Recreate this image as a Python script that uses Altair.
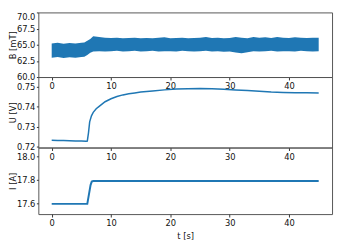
import altair as alt
import pandas as pd

# ---- data ----
# Panel 1: magnetic field B [mT] (noisy band: lower / upper envelope)
t_b = [0, 1, 2, 3, 4, 5, 5.5, 6, 6.5, 7, 8, 9, 10, 11, 12, 13, 14, 15, 16, 17,
       18, 19, 20, 21, 22, 23, 24, 25, 26, 27, 28, 29, 30, 31, 32, 33, 34, 35,
       36, 37, 38, 39, 40, 41, 42, 43, 44, 45]
b_hi = [65.2, 65.3, 65.15, 65.25, 65.2, 65.3, 65.35, 65.6, 65.9, 66.3, 66.2, 66.1,
        66.05, 66.1, 66.0, 66.05, 66.1, 66.0, 66.05, 66.0, 66.1, 66.15, 66.0, 66.05,
        66.1, 66.0, 66.05, 66.1, 66.2, 66.05, 66.1, 66.0, 66.05, 66.2, 66.1, 66.0,
        66.2, 66.1, 66.15, 66.05, 66.2, 66.1, 66.05, 66.15, 66.1, 66.05, 66.1, 66.1]
b_lo = [63.0, 63.1, 62.95, 63.05, 63.0, 63.1, 63.15, 63.4, 63.75, 63.95, 64.0, 63.95,
        64.0, 64.05, 63.95, 64.0, 64.05, 63.95, 64.0, 64.05, 63.95, 64.0, 64.0, 63.95,
        64.05, 64.0, 63.95, 64.0, 64.05, 63.95, 64.0, 63.9, 63.95, 63.8, 63.7, 63.85,
        64.0, 63.95, 64.0, 64.05, 63.95, 64.0, 64.0, 63.95, 64.05, 64.0, 63.95, 64.0]

# Panel 2: voltage U [V]
t_u = [0, 1, 2, 3, 4, 5, 5.8, 6.0, 6.2, 6.4, 6.7, 7.0, 7.5, 8, 9, 10, 11, 12, 13,
       14, 15, 17, 19, 21, 23, 25, 27, 29, 31, 33, 35, 37, 39, 41, 43, 45]
u_vals = [0.7233, 0.7232, 0.7232, 0.7231, 0.7230, 0.7229, 0.7228, 0.7229, 0.7270,
          0.7325, 0.7355, 0.7372, 0.7390, 0.7402, 0.7425, 0.7440, 0.7451, 0.7459,
          0.7465, 0.7469, 0.7473, 0.7479, 0.7484, 0.7488, 0.7490, 0.7491, 0.7490,
          0.7487, 0.7484, 0.7481, 0.7477, 0.7473, 0.7471, 0.7470, 0.7470, 0.7469]

# Panel 3: current I [A]
t_i = [0, 3, 6.0, 6.55, 6.75, 7.0, 20, 30, 45]
i_vals = [17.595, 17.595, 17.595, 17.755, 17.785, 17.79, 17.79, 17.79, 17.79]

x_ticks = [0, 10, 20, 30, 40]
b_ticks = [60.0, 62.5, 65.0, 67.5, 70.0]
u_ticks = [0.72, 0.73, 0.74, 0.75]
i_ticks = [17.6, 17.8, 18.0]

# ---- styling ----
BLUE = "#1f77b4"
FONT = "DejaVu Sans"
FS = 8.5
W = 300
x_scale = alt.Scale(domain=[-2.25, 47.25], nice=False, zero=False)

common_axis = dict(labelFont=FONT, labelFontSize=FS, labelColor="#111",
                   titleFont=FONT, titleFontSize=FS, titleColor="#111",
                   titleFontWeight="normal", tickColor="#333", tickWidth=1,
                   domain=False, grid=False)


def x_axis(title):
    kw = dict(common_axis)
    kw["title"] = title if title else None
    return alt.Axis(values=x_ticks, format="d", tickSize=3, labelPadding=2,
                    titlePadding=4.5, **kw)


def y_axis(title, ticks, fmt, baseline=None):
    kw = dict(common_axis)
    if baseline is not None:
        kw["labelBaseline"] = baseline
    return alt.Axis(values=ticks, format=fmt, title=title, tickSize=2,
                    labelPadding=1.5, titlePadding=-1, **kw)


df_b = pd.DataFrame({"t": t_b, "lo": b_lo, "hi": b_hi})
df_u = pd.DataFrame({"t": t_u, "u": u_vals})
df_i = pd.DataFrame({"t": t_i, "i": i_vals})

p1 = alt.Chart(df_b).mark_area(color=BLUE, opacity=1).encode(
    x=alt.X("t:Q", scale=x_scale, axis=x_axis(None)),
    y=alt.Y("lo:Q", scale=alt.Scale(domain=[60, 70], nice=False, zero=False),
            axis=y_axis("B [mT]", b_ticks, ".1f",
                        {"condition": {"test": "datum.value >= 70", "value": "top"},
                         "value": "middle"})),
    y2="hi:Q",
).properties(width=W, height=66)

p2 = alt.Chart(df_u).mark_line(color=BLUE, strokeWidth=1.5).encode(
    x=alt.X("t:Q", scale=x_scale, axis=x_axis(None)),
    y=alt.Y("u:Q", scale=alt.Scale(domain=[0.7197, 0.7548], nice=False, zero=False),
            axis=y_axis("U [V]", u_ticks, ".2f")),
).properties(width=W, height=72)

p3 = alt.Chart(df_i).mark_line(color=BLUE, strokeWidth=2).encode(
    x=alt.X("t:Q", scale=x_scale, axis=x_axis("t [s]")),
    y=alt.Y("i:Q", scale=alt.Scale(domain=[17.508, 18.075], nice=False, zero=False),
            axis=y_axis("I [A]", i_ticks, ".1f")),
).properties(width=W, height=68)

chart = alt.vconcat(p1, p2, p3, spacing=0, bounds="flush").properties(
    padding={"left": 0, "top": 1, "right": 1, "bottom": 0}
).configure_view(stroke="#555", strokeWidth=1)

chart.save("out.html", embed_options={"renderer": "svg", "actions": False})
